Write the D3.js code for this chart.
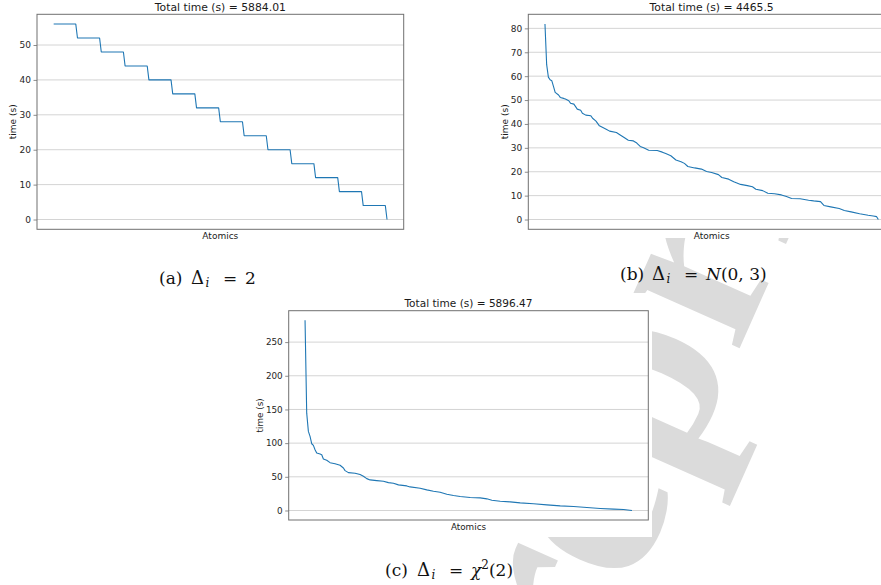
<!DOCTYPE html>
<html>
<head>
<meta charset="utf-8">
<script src="https://cdn.jsdelivr.net/npm/d3@7"></script>
<style>
  html, body { margin: 0; padding: 0; background: #fff; }
  svg { display: block; }
</style>
</head>
<body>
<svg id="page" width="881" height="585"></svg>
<script>
// ---- data -------------------------------------------------------------
// (a) constant increment: step levels and how many atomics sit on each level
const stepLevels = [56, 52, 48, 44, 40, 36, 32, 28, 24, 20, 16, 12, 8, 4, 0];
const stepCounts = [14, 14, 14, 14, 14, 14, 14, 14, 14, 14, 14, 14, 14, 14, 1];

// (b) normally distributed increments: atomic rank / time (s)
const normalRank = [0, 1, 2, 3, 4, 5, 6, 8, 9, 11, 12, 14, 15, 17, 19, 21, 22, 24, 27, 28,
  30, 32, 34, 36, 38, 42, 44, 47, 49, 52, 54, 56, 58, 61, 66, 69, 71, 74, 77, 80,
  82, 84, 88, 92, 95, 98, 102, 104, 108, 111, 115, 119, 122, 124, 128, 131, 135, 139, 142, 145,
  150, 155, 158, 162, 164, 168, 173, 176, 180, 185, 190, 193, 195, 196];
const normalTime = [81.8, 64.8, 59.6, 58.5, 58.1, 55.7, 53.2, 52.1, 51.1, 50.7, 50.4, 49.7, 48.7, 48.3, 46.2, 45.7, 44.5, 43.7, 43.4, 42.4,
  41.2, 39.2, 38.5, 37.8, 37.0, 36.4, 35.5, 34.1, 33.2, 32.9, 32.0, 30.6, 30.0, 29.0, 28.9, 28.2, 27.6, 26.7, 24.9, 24.2,
  23.5, 22.2, 21.6, 21.1, 20.1, 19.7, 18.8, 17.6, 16.9, 15.8, 14.7, 14.2, 13.7, 12.7, 12.1, 11.0, 10.8, 10.3, 9.6, 8.8,
  8.7, 8.1, 7.8, 7.5, 5.9, 5.3, 4.6, 3.8, 3.2, 2.4, 1.8, 1.5, 1.2, 0.0];

// (c) chi-squared increments: atomic rank / time (s)
const chiRank = [0, 1, 2, 3, 4, 5, 6, 7, 9, 10, 11, 13, 15, 18, 21, 23, 24, 26, 30, 33,
  35, 37, 39, 43, 47, 50, 53, 56, 61, 63, 69, 73, 77, 81, 85, 89, 93, 99, 105, 109,
  112, 117, 123, 129, 137, 145, 153, 161, 169, 177, 185, 191, 196];
const chiTime = [282.5, 144.5, 117.4, 110.0, 99.1, 96.6, 90.2, 85.3, 83.8, 82.8, 76.4, 74.5, 71.0, 69.5, 67.1, 63.1, 59.2, 56.2, 55.2, 53.3,
  50.8, 47.3, 45.4, 44.4, 43.4, 41.4, 40.4, 38.0, 36.5, 35.0, 33.0, 30.6, 28.6, 27.1, 24.2, 22.2, 20.7, 19.2, 18.7, 17.3,
  15.3, 13.8, 12.8, 11.3, 9.9, 8.4, 6.9, 5.9, 4.4, 3.0, 2.0, 1.5, 0.0];

const totals = ["5884.01", "4465.5", "5896.47"];
const tickSets = [[0, 10, 20, 30, 40, 50], [0, 10, 20, 30, 40, 50, 60, 70, 80], [0, 50, 100, 150, 200, 250]];

// ---- helpers ----------------------------------------------------------
const svg = d3.select("#page");
const SANS = "DejaVu Sans, Verdana, sans-serif";
const SERIF = "DejaVu Serif, Liberation Serif, serif";
const LINE = "#1f77b4";
const SPINE = "#707070";
const GRID = "#d4d4d4";

function expandSteps(levels, counts) {
  const out = [];
  levels.forEach((v, i) => { for (let k = 0; k < counts[i]; k++) out.push(v); });
  return out.map((v, i) => [i, v]);
}

// matplotlib-like autoscale with 5% margins
function padded(ext) {
  const span = ext[1] - ext[0];
  return [ext[0] - 0.05 * span, ext[1] + 0.05 * span];
}

function drawPanel(g, box, points, ticks, total, fs) {
  const x = d3.scaleLinear().domain(padded(d3.extent(points, d => d[0]))).range([box.x0, box.x1]);
  const y = d3.scaleLinear().domain(padded(d3.extent(points, d => d[1]))).range([box.y1, box.y0]);

  const clipId = "clip" + Math.round(box.x0);
  g.append("clipPath").attr("id", clipId).append("rect")
    .attr("x", box.x0).attr("y", box.y0).attr("width", box.x1 - box.x0).attr("height", box.y1 - box.y0);

  // horizontal grid
  g.append("g").selectAll("line").data(ticks).join("line")
    .attr("x1", box.x0).attr("x2", box.x1)
    .attr("y1", d => y(d)).attr("y2", d => y(d))
    .attr("stroke", GRID).attr("stroke-width", 1);

  // series
  g.append("path").datum(points)
    .attr("clip-path", `url(#${clipId})`)
    .attr("fill", "none").attr("stroke", LINE).attr("stroke-width", 1.1)
    .attr("stroke-linejoin", "round")
    .attr("d", d3.line().x(d => x(d[0])).y(d => y(d[1])));

  // y axis
  const ax = g.append("g").attr("transform", `translate(${box.x0},0)`)
    .call(d3.axisLeft(y).tickValues(ticks).tickSize(3.5).tickPadding(2.5).tickFormat(d3.format("d")));
  ax.select(".domain").remove();
  ax.selectAll(".tick line").attr("stroke", SPINE).attr("stroke-width", 0.8);
  ax.selectAll(".tick text").attr("font-family", SANS).attr("font-size", fs).attr("fill", "#262626");

  // frame
  g.append("rect").attr("x", box.x0).attr("y", box.y0)
    .attr("width", box.x1 - box.x0).attr("height", box.y1 - box.y0)
    .attr("fill", "none").attr("stroke", SPINE).attr("stroke-width", 1);

  const cx = (box.x0 + box.x1) / 2;
  g.append("text").attr("x", cx).attr("y", box.y0 - 3.5).attr("text-anchor", "middle")
    .attr("font-family", SANS).attr("font-size", fs * 1.2).attr("fill", "#1a1a1a")
    .text(`Total time (s) = ${total}`);
  g.append("text").attr("x", cx).attr("y", box.y1 + 10).attr("text-anchor", "middle")
    .attr("font-family", SANS).attr("font-size", fs).attr("fill", "#1a1a1a").text("Atomics");
  const ly = (box.y0 + box.y1) / 2;
  g.append("text").attr("transform", `translate(${box.labelX},${ly}) rotate(-90)`)
    .attr("text-anchor", "middle").attr("font-family", SANS).attr("font-size", fs)
    .attr("fill", "#1a1a1a").text("time (s)");
}

function caption(x0, yb, letter, valueParts) {
  const t = svg.append("g").attr("font-family", SERIF).attr("font-size", 17).attr("fill", "#111");
  t.append("text").attr("x", x0).attr("y", yb).text(`(${letter})`);
  t.append("text").attr("x", x0 + 32).attr("y", yb).attr("font-size", 18).text("Δ");
  t.append("text").attr("x", x0 + 46.5).attr("y", yb + 3).attr("font-size", 12).attr("font-style", "italic").text("i");
  t.append("text").attr("x", x0 + 64).attr("y", yb).text("=");
  const v = t.append("text").attr("x", x0 + 86).attr("y", yb);
  valueParts.forEach(p => {
    const s = v.append("tspan").text(p.t);
    if (p.it) s.attr("font-style", "italic");
    if (p.sup) s.attr("font-size", 12).attr("dy", -7);
    if (p.down) s.attr("dy", 7);
  });
}

// ---- page -------------------------------------------------------------
// background watermark
svg.append("text")
  .attr("transform", "translate(680,482) rotate(-66)")
  .attr("x", -390)
  .attr("font-family", "Liberation Serif, serif").attr("font-weight", "bold").attr("font-size", 260)
  .attr("fill", "#dbdbdb").text("Preprint");

// figure image backgrounds
const figs = [
  { x: 0, y: 0, w: 412, h: 240 },
  { x: 490, y: 0, w: 391, h: 238 },
  { x: 247, y: 293, w: 405, h: 244 }
];
svg.append("g").selectAll("rect").data(figs).join("rect")
  .attr("x", d => d.x).attr("y", d => d.y).attr("width", d => d.w).attr("height", d => d.h)
  .attr("fill", "#fff");

const panelA = svg.append("g");
drawPanel(panelA, { x0: 37, x1: 403.7, y0: 14.3, y1: 229.3, labelX: 16 },
  expandSteps(stepLevels, stepCounts), tickSets[0], totals[0], 9);

const panelB = svg.append("g");
drawPanel(panelB, { x0: 528.3, x1: 895, y0: 14.3, y1: 229.3, labelX: 507.5 },
  normalRank.map((r, i) => [r, normalTime[i]]), tickSets[1], totals[1], 9);

const panelC = svg.append("g");
drawPanel(panelC, { x0: 288.7, x1: 648.3, y0: 310.7, y1: 520, labelX: 262.5 },
  chiRank.map((r, i) => [r, chiTime[i]]), tickSets[2], totals[2], 8.8);

caption(159, 283.5, "a", [{ t: "2" }]);
caption(620, 280, "b", [{ t: "N", it: true }, { t: "(0, 3)" }]);
caption(385, 575.5, "c", [{ t: "χ", it: true }, { t: "2", sup: true }, { t: "(2)", down: true }]);
</script>
</body>
</html>
